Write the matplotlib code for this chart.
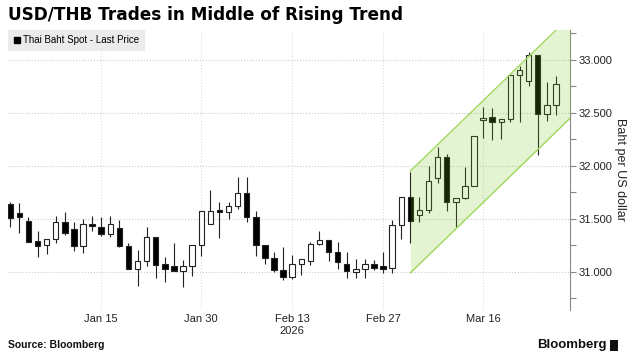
import numpy as np
import matplotlib
matplotlib.use("Agg")
import matplotlib.pyplot as plt
from matplotlib.lines import Line2D
from matplotlib.patches import Rectangle

plt.rcParams['font.family'] = ['Liberation Sans', 'DejaVu Sans']

# daily OHLC, USD/THB, Jan 1 - Mar 26 2026 (trading days)
opens = [31.64, 31.55, 31.48, 31.29, 31.25, 31.31, 31.47, 31.40, 31.24, 31.45,
         31.42, 31.36, 31.41, 31.24, 31.03, 31.10, 31.33, 31.07, 31.05, 31.01,
         31.05, 31.25, 31.45, 31.58, 31.56, 31.62, 31.74, 31.52, 31.25, 31.13,
         31.02, 30.95, 31.07, 31.10, 31.26, 31.30, 31.19, 31.07, 31.00, 31.03,
         31.07, 31.05, 31.04, 31.44, 31.71, 31.54, 31.58, 31.88, 32.08, 31.66,
         31.70, 31.81, 32.43, 32.46, 32.41, 32.44, 32.86, 32.80, 33.04, 32.49,
         32.57]
highs = [31.66, 31.65, 31.52, 31.38, 31.31, 31.53, 31.56, 31.47, 31.50, 31.53,
         31.52, 31.53, 31.49, 31.27, 31.21, 31.42, 31.33, 31.14, 31.27, 31.11,
         31.25, 31.57, 31.77, 31.66, 31.66, 31.89, 31.89, 31.57, 31.25, 31.19,
         31.23, 31.16, 31.12, 31.28, 31.38, 31.30, 31.28, 31.19, 31.12, 31.12,
         31.11, 31.19, 31.49, 31.71, 31.94, 31.71, 32.00, 32.18, 32.11, 31.70,
         31.99, 32.28, 32.55, 32.54, 32.44, 32.86, 32.94, 33.07, 33.04, 32.79,
         32.85]
lows = [31.42, 31.37, 31.28, 31.14, 31.17, 31.27, 31.35, 31.20, 31.18, 31.38,
        31.34, 31.33, 31.23, 31.03, 30.87, 31.05, 30.94, 30.90, 31.01, 30.86,
        30.96, 31.15, 31.45, 31.32, 31.50, 31.59, 31.47, 31.15, 31.07, 31.00,
        30.92, 30.93, 30.97, 31.06, 31.25, 31.10, 31.03, 30.94, 30.94, 30.94,
        31.02, 30.99, 30.99, 31.31, 31.27, 31.47, 31.55, 31.84, 31.57, 31.42,
        31.69, 31.81, 32.26, 32.24, 32.25, 32.41, 32.41, 32.75, 32.10, 32.42,
        32.48]
closes = [31.51, 31.52, 31.28, 31.24, 31.31, 31.47, 31.37, 31.24, 31.45, 31.43,
          31.36, 31.45, 31.24, 31.03, 31.10, 31.33, 31.06, 31.03, 31.01, 31.05,
          31.25, 31.57, 31.57, 31.56, 31.62, 31.74, 31.52, 31.25, 31.13, 31.02,
          30.95, 31.07, 31.12, 31.26, 31.30, 31.19, 31.09, 31.01, 31.03, 31.07,
          31.04, 31.03, 31.44, 31.71, 31.48, 31.58, 31.86, 32.08, 31.66, 31.70,
          31.81, 32.28, 32.45, 32.41, 32.44, 32.86, 32.90, 33.04, 32.49, 32.57,
          32.77]

tick_pos = [10, 21, 31, 41, 52]
tick_labels = ["Jan 15", "Jan 30", "Feb 13\n2026", "Feb 27", "Mar 16"]
y_ticks = [31.0, 31.5, 32.0, 32.5, 33.0]

# rising trend channel
chan_x = [44, 61.6]
chan_low0, chan_high0, chan_slope = 30.99, 31.95, 0.083

o = np.array(opens)
c = np.array(closes)
x = np.arange(len(o))

fig = plt.figure(figsize=(6.35, 3.57), dpi=100)
ax = fig.add_axes([0.0126, 0.1317, 0.885, 0.7843])

ax.vlines(x, lows, highs, color='#222222', lw=0.8, zorder=2)
bottom = np.minimum(o, c)
height = np.maximum(np.abs(c - o), 0.012)
colors = ['black' if cc < oo else 'white' for oo, cc in zip(o, c)]
ax.bar(x, height, bottom=bottom, width=0.6, color=colors,
       edgecolor='#222222', linewidth=0.8, zorder=3)

cx = np.array(chan_x)
low_line = chan_low0 + chan_slope * (cx - cx[0])
high_line = chan_high0 + chan_slope * (cx - cx[0])
ax.fill_between(cx, low_line, high_line, color='#78c81e', alpha=0.2,
                lw=0, zorder=4)
ax.plot(cx, low_line, color='#9fd95c', lw=1, zorder=5)
ax.plot(cx, high_line, color='#9fd95c', lw=1, zorder=5)

ax.set_xlim(-0.25, 61.55)
ax.set_ylim(30.64, 33.28)

ax.set_xticks(tick_pos)
ax.set_xticklabels(tick_labels, fontsize=8, color='#222222')
ax.tick_params(axis='x', length=0, pad=3)

ax.yaxis.tick_right()
ax.yaxis.set_label_position('right')
ax.set_yticks(y_ticks)
ax.set_yticklabels([f"{v:.3f}" for v in y_ticks], fontsize=8, color='#222222')
ax.set_yticks(np.arange(30.75, 33.3, 0.5), minor=True)
ax.tick_params(axis='y', which='both', length=4, color='#888888', pad=2,
               width=0.8)
ax.set_ylabel("Baht per US dollar", rotation=270, fontsize=9, labelpad=10,
              color='#222222')

ax.grid(True, axis='y', which='major', color='#cccccc', ls=':', lw=0.8)
ax.grid(True, axis='x', which='major', color='#dddddd', ls=':', lw=0.8)
for s in ['top', 'left', 'bottom']:
    ax.spines[s].set_visible(False)
ax.spines['right'].set_color('#888888')
ax.spines['right'].set_linewidth(0.8)

h = Line2D([], [], marker='s', color='black', ls='', markersize=5)
leg = ax.legend([h], ["Thai Baht Spot - Last Price"], loc='upper left',
                bbox_to_anchor=(0, 1), borderaxespad=0, fontsize=7,
                handletextpad=0.2, handlelength=0.8, borderpad=0.55,
                fancybox=False, framealpha=1)
leg.get_frame().set_facecolor('#ebebeb')
leg.get_frame().set_edgecolor('none')

fig.text(0.0126, 0.957, "USD/THB Trades in Middle of Rising Trend",
         fontsize=12.2, fontweight='bold', va='center', ha='left',
         family='DejaVu Sans')
fig.text(0.0126, 0.033, "Source: Bloomberg", fontsize=7.5,
         fontweight='bold', va='center', ha='left', color='#111111')
fig.text(0.955, 0.033, "Bloomberg", fontsize=9.5, fontweight='bold',
         va='center', ha='right', color='#111111')
fig.patches.append(Rectangle((0.96, 0.018), 0.013, 0.03, transform=fig.transFigure,
                             facecolor='#111111', edgecolor='none'))

fig.savefig("out.png", dpi=100)
